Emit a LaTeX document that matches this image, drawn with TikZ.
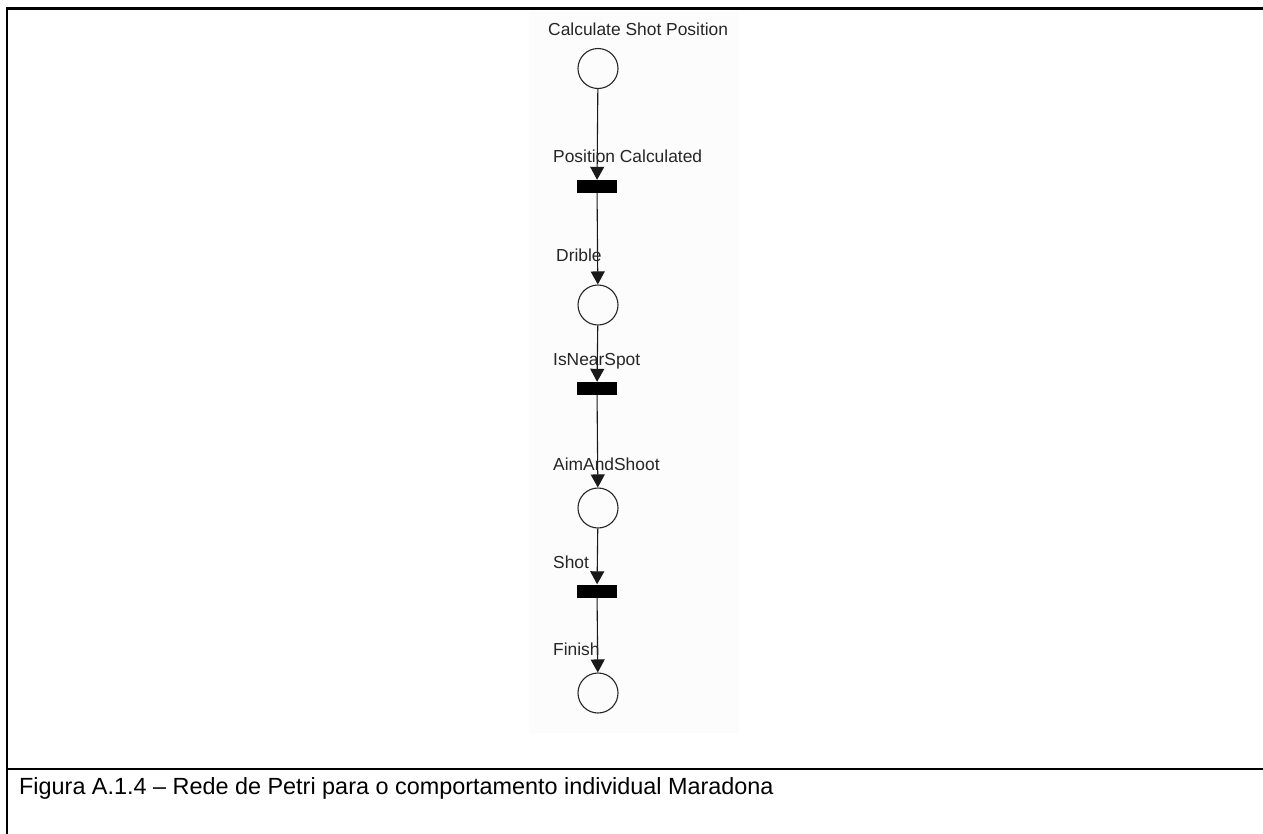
\documentclass[tikz,border=0pt]{standalone}
\usepackage{fontspec}
\setmainfont{Liberation Sans}
\usetikzlibrary{arrows.meta}
\begin{document}
\begin{tikzpicture}[x=1pt,y=-1pt,
  frameline/.style={line width=2.6pt,line cap=rect},
  place/.style={circle,draw=black!85,line width=1.1pt,minimum size=40pt,inner sep=0pt},
  transition/.style={rectangle,fill=black,minimum width=40pt,minimum height=13pt,inner sep=0pt},
  arc/.style={draw=black!90,line width=1.1pt,-{Triangle[length=13pt,width=14pt]}},
  netlabel/.style={anchor=base west,inner sep=0pt,text=black!85,font=\fontsize{17.4}{20}\selectfont},
  caption/.style={anchor=base west,inner sep=0pt,font=\fontsize{23.4}{28}\selectfont}]
\useasboundingbox (0,0) rectangle (1263,833);
\fill[white] (0,0) rectangle (1263,833);
% light backdrop of the net drawing
\fill[black!1] (529,12) rectangle (739,733);
% table frame
\draw[frameline] (7,833) -- (7,8.5) -- (1263,8.5);
\draw[frameline] (7,769) -- (1263,769);
% places and transitions
\node[place] (p1) at (598,68.5) {};
\node[transition] (t1) at (597,186.5) {};
\node[place] (p2) at (598,305) {};
\node[transition] (t2) at (597,388.5) {};
\node[place] (p3) at (598,508) {};
\node[transition] (t3) at (597,591) {};
\node[place] (p4) at (598,693) {};
% arcs
\draw[arc] (p1) -- (t1);
\draw[arc] (t1) -- (p2);
\draw[arc] (p2) -- (t2);
\draw[arc] (t2) -- (p3);
\draw[arc] (p3) -- (t3);
\draw[arc] (t3) -- (p4);
% labels
\node[netlabel] (l1) at (548,35) {Calculate Shot Position};
\node[netlabel] (l2) at (553,162) {Position Calculated};
\node[netlabel] (l3) at (556,261) {Drible};
\node[netlabel] (l4) at (553,365) {IsNearSpot};
\node[netlabel] (l5) at (553,470) {AimAndShoot};
\node[netlabel] (l6) at (553,568) {Shot};
\node[netlabel] (l7) at (553,655) {Finish};
% caption
\node[caption] (cap) at (19,794) {Figura A.1.4 – Rede de Petri para o comportamento individual Maradona};
\end{tikzpicture}
\end{document}
